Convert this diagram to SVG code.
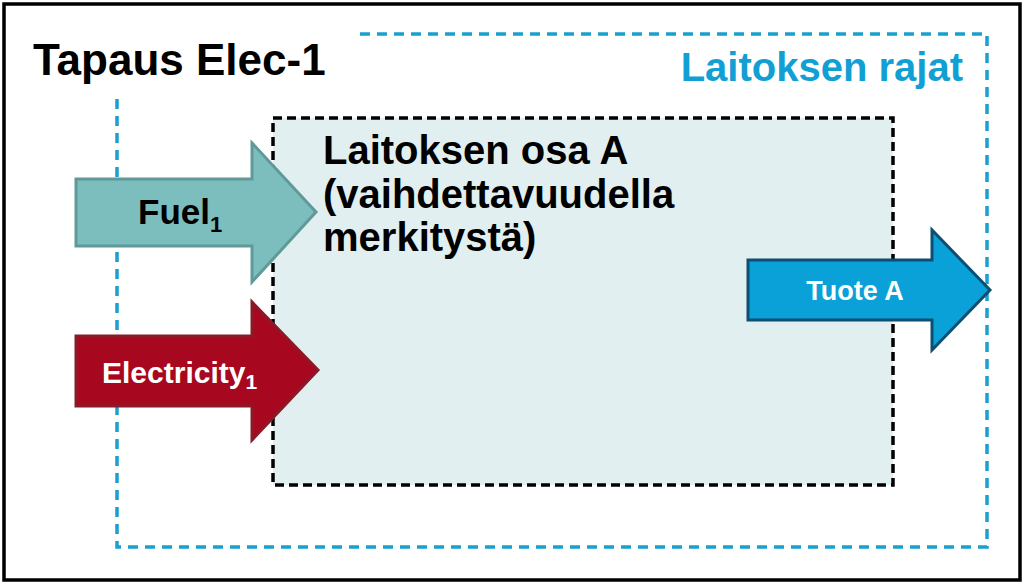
<svg xmlns="http://www.w3.org/2000/svg" width="1024" height="584" viewBox="0 0 1024 584">
<style>
text{font-family:"Liberation Sans",Arial,sans-serif;font-weight:bold}
.frame{fill:#ffffff;stroke:#000000;stroke-width:3.5}
.bound{fill:none;stroke:#1a9fd0;stroke-width:3.5;stroke-dasharray:10 7}
.part{fill:#e2eff0;stroke:#000000;stroke-width:3.5;stroke-dasharray:9 5}
.fuel{fill:#7cbdbd;stroke:#5f9a99;stroke-width:3}
.elec{fill:#a8081f;stroke:#8a1a29;stroke-width:3}
.prod{fill:#0aa0d8;stroke:#0d4f72;stroke-width:3}
</style>
<rect class="frame" x="4" y="4" width="1016" height="576"/>
<g id="title"><text x="33" y="75" font-size="44" fill="#000">Tapaus Elec-1</text></g>
<g id="plant-boundary">
<path class="bound" d="M360,34 H987 V547 H117 V96"/>
<text x="963" y="81" font-size="40" fill="#119fd4" text-anchor="end">Laitoksen rajat</text>
</g>
<g id="part-a">
<rect class="part" x="273" y="118" width="620" height="367"/>
<text font-size="40" fill="#000"><tspan x="323" y="164">Laitoksen osa A</tspan><tspan x="323" y="208">(vaihdettavuudella</tspan><tspan x="323" y="251">merkitystä)</tspan></text>
</g>
<g id="connectors">
<g id="fuel">
<polygon class="fuel" points="76,179 252,179 252,143 316,212 252,282 252,246 76,246"/>
<text x="138" y="224" font-size="35" fill="#000">Fuel<tspan font-size="22" dy="8">1</tspan></text>
</g>
<g id="electricity">
<polygon class="elec" points="76,336 252,336 252,302 318,370 252,440 252,406 76,406"/>
<text x="102" y="383" font-size="30" fill="#fff">Electricity<tspan font-size="21" dy="6">1</tspan></text>
</g>
<g id="tuote-a">
<polygon class="prod" points="748,260 932,260 932,230 990,290 932,350 932,320 748,320"/>
<text x="855" y="300" font-size="27" fill="#fff" text-anchor="middle">Tuote A</text>
</g>
</g>
</svg>
